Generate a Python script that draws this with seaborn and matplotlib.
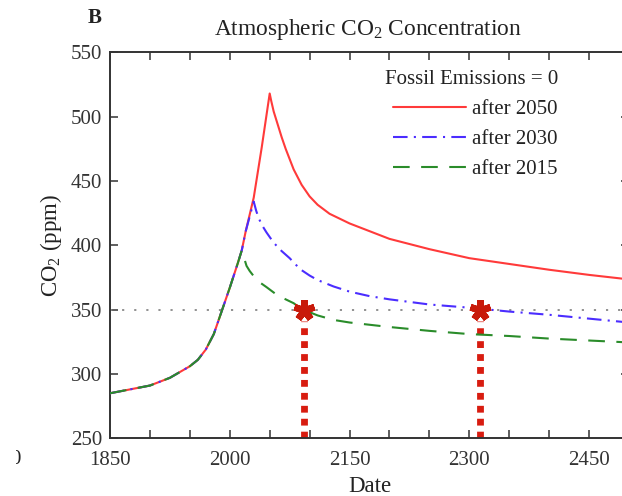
import matplotlib
matplotlib.use("Agg")
import matplotlib.pyplot as plt
from matplotlib.ticker import MultipleLocator, FixedLocator
from matplotlib.patches import Rectangle
import pandas as pd
import seaborn as sns

# Observed concentration, shared by every scenario
hist_years = [1850, 1875, 1900, 1925, 1950, 1960, 1970, 1980, 1990, 2000, 2010, 2015]
hist_ppm = [285, 288, 291, 297, 306, 311, 319, 331, 349, 367, 386, 396]

# Fossil emissions stop after 2050
y2050_years = [2020, 2030, 2040, 2050, 2052, 2055, 2060, 2065, 2070, 2075, 2080, 2090,
               2100, 2110, 2125, 2150, 2175, 2200, 2250, 2300, 2350, 2400, 2450, 2500]
y2050_ppm = [411, 437, 476, 518, 512, 504, 494, 484, 475, 467, 459, 447,
             438, 431.5, 424.5, 417, 411, 405, 397, 390, 385.5, 381, 377, 373.5]

# Fossil emissions stop after 2030
y2030_years = [2020, 2030, 2033, 2036, 2040, 2046, 2055, 2065, 2075, 2088, 2100,
               2110, 2130, 2150, 2175, 2200, 2250, 2300, 2350, 2400, 2450, 2500]
y2030_ppm = [411, 434, 427, 421.5, 416, 410, 402, 395.5, 390, 381.5, 376.5,
             373, 368, 364, 360.5, 358, 354, 351.5, 348.5, 346, 343, 340]

# Fossil emissions stop after 2015
y2015_years = [2018, 2021, 2025, 2030, 2038, 2046, 2060, 2080, 2090, 2110, 2130,
               2150, 2200, 2250, 2300, 2350, 2400, 2450, 2500]
y2015_ppm = [390, 384, 380, 376, 371, 367.5, 361, 355, 350.5, 345.5, 342,
             340, 336.5, 333.5, 331, 329.5, 327.5, 326, 324.5]

scenario_labels = ["after 2050", "after 2030", "after 2015"]
target_ppm = 350
return_years = [2093, 2314]
y_floor = 250
drop_top = 341

x_labels = [1850, 2000, 2150, 2300, 2450]
y_ticks = [250, 300, 350, 400, 450, 500, 550]

sns.set_theme(style="ticks")
plt.rcParams.update({
    "font.family": ["Liberation Serif", "DejaVu Serif"],
    "mathtext.fontset": "custom",
    "mathtext.rm": "Liberation Serif",
    "mathtext.it": "Liberation Serif:italic",
    "text.color": "#222222",
    "axes.labelcolor": "#222222",
    "xtick.color": "#333333",
    "ytick.color": "#333333",
})

W, H = 622, 496
FS = 15
fig = plt.figure(figsize=(W / 100, H / 100), dpi=100)
ax = fig.add_axes([110 / W, 1 - 438.3 / H, 519 / W, (438.3 - 52.3) / H])

# reference level
ax.axhline(target_ppm, color="#888888", lw=1.3, linestyle=(0, (1.2, 5.5)), zorder=1)

# dates at which each path returns to 350 ppm
for yr in return_years:
    ax.plot([yr, yr], [y_floor, drop_top], color="#d81c10", lw=4.9,
            linestyle=(0, (1, 0.9)), dash_capstyle="butt", solid_capstyle="butt",
            zorder=2)

def series(years, ppm):
    return pd.DataFrame({"year": hist_years + years, "ppm": hist_ppm + ppm})

styles = [
    (series(y2050_years, y2050_ppm), "#ff3a3a", "-"),
    (series(y2030_years, y2030_ppm), "#4b2dff", (0, (7, 3, 1, 3))),
    (series(y2015_years, y2015_ppm), "#2a8c2a", (0, (8, 5.5))),
]
for (df, col, ls), lab in zip(styles, scenario_labels):
    sns.lineplot(data=df, x="year", y="ppm", ax=ax, color=col, lw=1.5,
                 linestyle=ls, label=lab, zorder=3, estimator=None, sort=False)

ax.plot(return_years, [target_ppm] * len(return_years), linestyle="none",
        marker=(5, 2, 0), markersize=15, markeredgewidth=4.8,
        color="#c81a0a", markeredgecolor="#c81a0a", zorder=5)

ax.set_xlim(1850, 2500)
ax.set_ylim(250, 550)
ax.xaxis.set_major_locator(FixedLocator(x_labels))
ax.xaxis.set_minor_locator(MultipleLocator(50))
ax.set_yticks(y_ticks)
ax.tick_params(which="both", direction="in", top=True, right=True,
               length=5.5, width=1.1, labelsize=FS)
ax.tick_params(axis="x", which="both", pad=9.5)
ax.tick_params(axis="y", which="both", pad=5.5)
for sp in ax.spines.values():
    sp.set_linewidth(1.4)
    sp.set_color("#333333")

ax.set_xlabel("Date", fontsize=16.5, labelpad=4)
ax.set_ylabel("CO$_\\mathrm{2}$ (ppm)", fontsize=16.5, labelpad=5)
ax.text(368 / W, 1 - 30 / H, "Atmospheric CO$_\\mathrm{2}$ Concentration",
        transform=fig.transFigure, ha="center", va="center", fontsize=16.8)
fig.text(95 / W, 1 - 18 / H, "B", ha="center", va="center", fontsize=15,
         fontweight="bold")

# stray tick label of the neighbouring panel, cut by the page edge
stray = fig.text(21 / W, 1 - 459 / H, "0", ha="right", va="center", fontsize=FS)
stray.set_clip_path(Rectangle((16 / W, 0), 1, 1, transform=fig.transFigure))

leg = ax.legend(title="Fossil Emissions = 0", loc="upper right",
                bbox_to_anchor=(558 / W, 1 - 70 / H), bbox_transform=fig.transFigure,
                frameon=False, fontsize=FS, title_fontsize=FS,
                handlelength=3.5, handletextpad=0.3, labelspacing=0.5,
                borderpad=0, borderaxespad=0, alignment="right")

fig.savefig("out.png", dpi=100)
